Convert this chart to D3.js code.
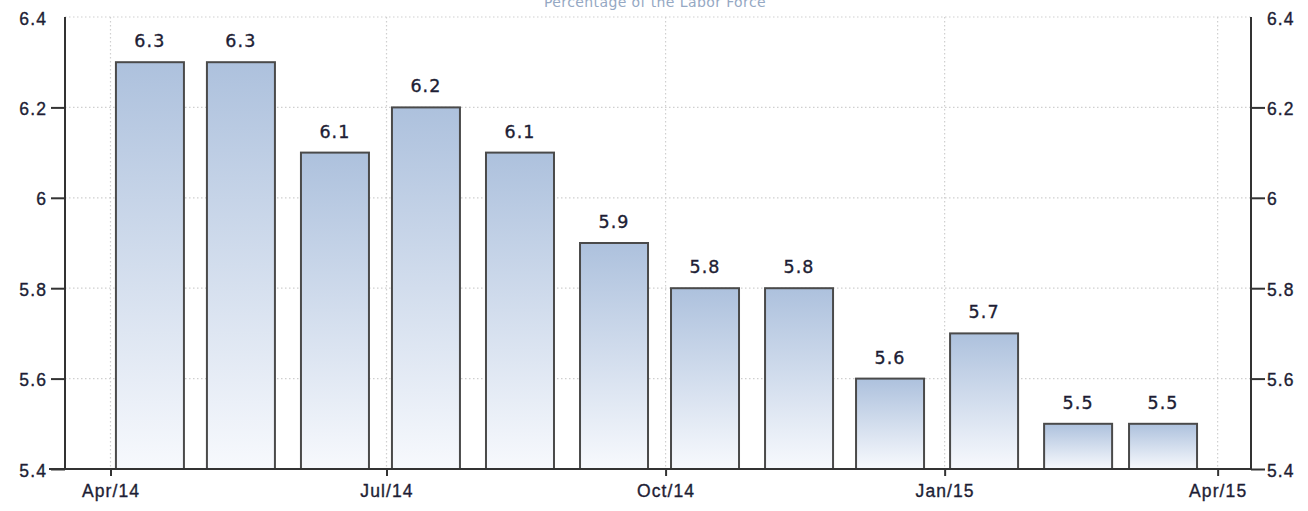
<!DOCTYPE html>
<html>
<head>
<meta charset="utf-8">
<script src="https://cdn.jsdelivr.net/npm/d3@7/dist/d3.min.js"></script>
<style>
  html, body { margin: 0; padding: 0; background: #fff; }
  svg { display: block; font-family: "DejaVu Sans", sans-serif; }
  .grid line { stroke: #cfcfcf; stroke-width: 1.2; stroke-dasharray: 1.5 2.5; }
  .axis path, .axis line { stroke: #333; stroke-width: 2; }
  .axis text, .value {
    fill: #1e1e35; stroke: #1e1e35; stroke-width: 0.35px;
    font-size: 17.5px; letter-spacing: 1.1px;
  }
  .value { text-anchor: middle; }
</style>
</head>
<body>
<div id="chart"></div>
<script>
const months = ["2014-04-14", "2014-05-14", "2014-06-14", "2014-07-14", "2014-08-14", "2014-09-14",
                "2014-10-14", "2014-11-14", "2014-12-14", "2015-01-14", "2015-02-14", "2015-03-14"];
const values = [6.3, 6.3, 6.1, 6.2, 6.1, 5.9, 5.8, 5.8, 5.6, 5.7, 5.5, 5.5];
const yTicks = [5.4, 5.6, 5.8, 6, 6.2, 6.4];
const xTicks = ["2014-04-01", "2014-07-01", "2014-10-01", "2015-01-01", "2015-04-01"];
const title = "Percentage of the Labor Force";

const parse = d3.utcParse("%Y-%m-%d");
const data = months.map((m, i) => ({ date: parse(m), value: values[i] }));

const width = 1308, height = 511;
const margin = { top: 17, right: 57, bottom: 42, left: 65 };
const innerW = width - margin.left - margin.right;
const innerH = height - margin.top - margin.bottom;

const svg = d3.select("#chart").append("svg")
    .attr("width", width)
    .attr("height", height);

const defs = svg.append("defs");
const grad = defs.append("linearGradient")
    .attr("id", "bar-gradient")
    .attr("x1", 0).attr("y1", 0)
    .attr("x2", 0).attr("y2", 1);
grad.append("stop").attr("offset", "0%").attr("stop-color", "#adc1dd");
grad.append("stop").attr("offset", "100%").attr("stop-color", "#f7f9fd");

// title sits partly above the top edge, as in the original
svg.append("text")
    .attr("x", 655)
    .attr("y", 7)
    .attr("text-anchor", "middle")
    .attr("fill", "#95a8c3")
    .style("font-size", "14px")
    .style("letter-spacing", "0.4px")
    .text(title);

const g = svg.append("g").attr("transform", `translate(${margin.left},${margin.top})`);

const x = d3.scaleUtc()
    .domain([parse("2014-03-17"), parse("2015-04-12")])
    .range([0, innerW]);
const y = d3.scaleLinear().domain([5.4, 6.4]).range([innerH, 0]);

const xTickDates = xTicks.map(parse);

// gridlines
g.append("g").attr("class", "grid")
  .selectAll("line").data(yTicks).join("line")
    .attr("x1", 0).attr("x2", innerW)
    .attr("y1", d => y(d)).attr("y2", d => y(d));
g.append("g").attr("class", "grid")
  .selectAll("line").data(xTickDates).join("line")
    .attr("x1", d => x(d)).attr("x2", d => x(d))
    .attr("y1", 0).attr("y2", innerH);

// bars
const halfW = 34;
g.selectAll(".bar").data(data).join("rect")
    .attr("class", "bar")
    .attr("x", d => x(d.date) - halfW)
    .attr("width", halfW * 2)
    .attr("y", d => y(d.value))
    .attr("height", d => innerH - y(d.value))
    .attr("fill", "url(#bar-gradient)")
    .attr("stroke", "#4a4a4a")
    .attr("stroke-width", 2);

g.selectAll(".value").data(data).join("text")
    .attr("class", "value")
    .attr("x", d => x(d.date))
    .attr("y", d => y(d.value) - 15)
    .text(d => d.value);

// axes
const fmt = d3.format("");
const yLeft = g.append("g").attr("class", "axis")
    .call(d3.axisLeft(y).tickValues(yTicks).tickSize(14).tickPadding(4).tickFormat(fmt));
const yRight = g.append("g").attr("class", "axis")
    .attr("transform", `translate(${innerW},0)`)
    .call(d3.axisRight(y).tickValues(yTicks).tickSize(14).tickPadding(4).tickFormat(fmt));
[yLeft, yRight].forEach(ax => {
  ax.select(".domain").attr("d", `M0,0V${innerH}`);
  ax.selectAll(".tick").filter(d => d === 6.4).select("line").remove();
  ax.selectAll(".tick text").attr("dy", "0.4em");
});
yLeft.selectAll(".tick text").attr("x", -18);
yRight.selectAll(".tick text").attr("x", 16);

const xAxis = g.append("g").attr("class", "axis")
    .attr("transform", `translate(0,${innerH})`)
    .call(d3.axisBottom(x).tickValues(xTickDates).tickSize(7).tickPadding(9)
        .tickFormat(d3.utcFormat("%b/%y")));
xAxis.select(".domain").attr("d", `M-16,0H${innerW}`);
</script>
</body>
</html>
